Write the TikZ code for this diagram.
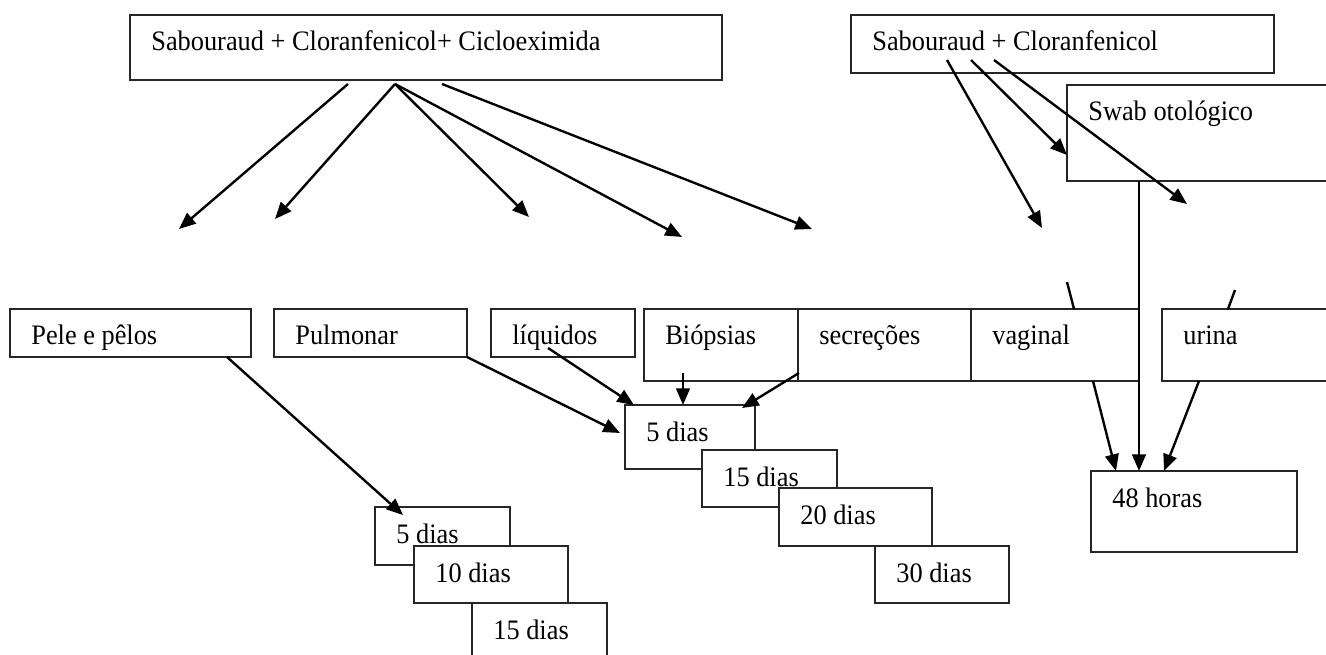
\documentclass[tikz,border=0pt]{standalone}
\usepackage{fontspec}
\usepackage{graphicx}
\setmainfont{Liberation Serif}
\usetikzlibrary{arrows.meta}
% box: name, left, top, width, height, text (text set 21 units in, baseline 36 units down)
\newcommand\mediumbox[6]{%
  \node[box, minimum width=#4*0.02cm, minimum height=#5*0.02cm] (#1) at ({#2+#4/2},{#3+#5/2}) {};
  \node[lbl] (#1-t) at ({#2+21},{#3+36}) {\scalebox{1}[1.07]{#6}};}
\begin{document}
\begin{tikzpicture}[x=0.02cm,y=-0.02cm,
  box/.style={draw=black!85, line width=0.85pt, fill=white, rectangle, inner sep=0pt, outer sep=0pt},
  lbl/.style={anchor=base west, inner sep=0pt, font=\fontsize{15}{18}\selectfont},
  arr/.style={line width=1.35pt, -{Triangle[length=9.5pt,width=7.8pt]}},
  tick/.style={line width=1.35pt}]
\clip (0,0) rectangle (1326,655);
\fill[white] (0,0) rectangle (1326,655);

% culture media
\mediumbox{sccc}{130}{15}{592}{65}{Sabouraud + Cloranfenicol+ Cicloeximida}
\mediumbox{scl}{851}{15}{423}{58}{Sabouraud + Cloranfenicol}
\mediumbox{swab}{1067}{85}{290}{96}{Swab otológico}

% sample types
\mediumbox{pele}{10}{309}{241}{48}{Pele e pêlos}
\mediumbox{pulm}{274}{309}{193}{48}{Pulmonar}
\mediumbox{liq}{491}{309}{144}{48}{líquidos}
\mediumbox{biop}{644}{309}{183}{72}{Biópsias}
\mediumbox{secr}{798}{309}{173}{72}{secreções}
\mediumbox{vag}{971}{309}{168}{72}{vaginal}
\mediumbox{urina}{1162}{309}{200}{72}{urina}

% incubation times
\mediumbox{L5}{375}{507}{135}{58}{5 dias}
\mediumbox{L10}{414}{546}{154}{57}{10 dias}
\mediumbox{L15}{472}{603}{135}{70}{15 dias}
\mediumbox{M5}{625}{405}{130}{64}{5 dias}
\mediumbox{M15}{702}{450}{135}{57}{15 dias}
\mediumbox{M20}{779}{488}{153}{58}{20 dias}
\mediumbox{M30}{875}{546}{134}{57}{30 dias}
\mediumbox{h48}{1091}{471}{206}{81}{48 horas}

% free arrow ends below the media boxes
\coordinate (a1) at (179,229);
\coordinate (a2) at (275,219);
\coordinate (a3) at (529,217);
\coordinate (a4) at (682,237);
\coordinate (a5) at (812,229);
\coordinate (b1) at (1042,228);
\coordinate (b3) at (1187,204);
\coordinate (v1) at (1067,282);
\coordinate (u1) at (1235,290);

% arrows from the cycloheximide medium
\draw[arr] ([shift={(218,4)}]sccc.south west) -- (a1);
\draw[arr] ([shift={(265,4)}]sccc.south west) -- (a2);
\draw[arr] ([shift={(265,4)}]sccc.south west) -- (a3);
\draw[arr] ([shift={(265,4)}]sccc.south west) -- (a4);
\draw[arr] ([shift={(312,4)}]sccc.south west) -- (a5);

% arrows from the chloramphenicol medium
\draw[arr] ([shift={(96,-13)}]scl.south west) -- (b1);
\draw[arr] ([shift={(120,-13)}]scl.south west) -- ([shift={(0,22)}]swab.west);
\draw[arr] ([shift={(143,-13)}]scl.south west) -- (b3);

% short strokes above vaginal and urina
\draw[tick] (v1) -- ([shift={(103,0)}]vag.north west);
\draw[tick] (u1) -- ([shift={(66,0)}]urina.north west);

% into the 48 h box
\draw[arr] (vag.north east |- swab.south) -- (vag.north east |- h48.north);
\draw[arr] ([shift={(122,0)}]vag.south west) -- ([shift={(25,0)}]h48.north west);
\draw[arr] ([shift={(37,0)}]urina.south west) -- ([shift={(73,0)}]h48.north west);

% into the day boxes
\draw[arr] ([shift={(217,0)}]pele.south west) -- ([shift={(28,8)}]L5.north west);
\draw[arr] (pulm.south east) -- ([shift={(-5,28)}]M5.north west);
\draw[arr] ([shift={(57,39)}]liq.north west) -- ([shift={(9,0)}]M5.north west);
\draw[arr] ([shift={(39,64)}]biop.north west) -- ([shift={(58,0)}]M5.north west);
\draw[arr] ([shift={(1,64)}]secr.north west) -- ([shift={(117,3)}]M5.north west);
\end{tikzpicture}
\end{document}
